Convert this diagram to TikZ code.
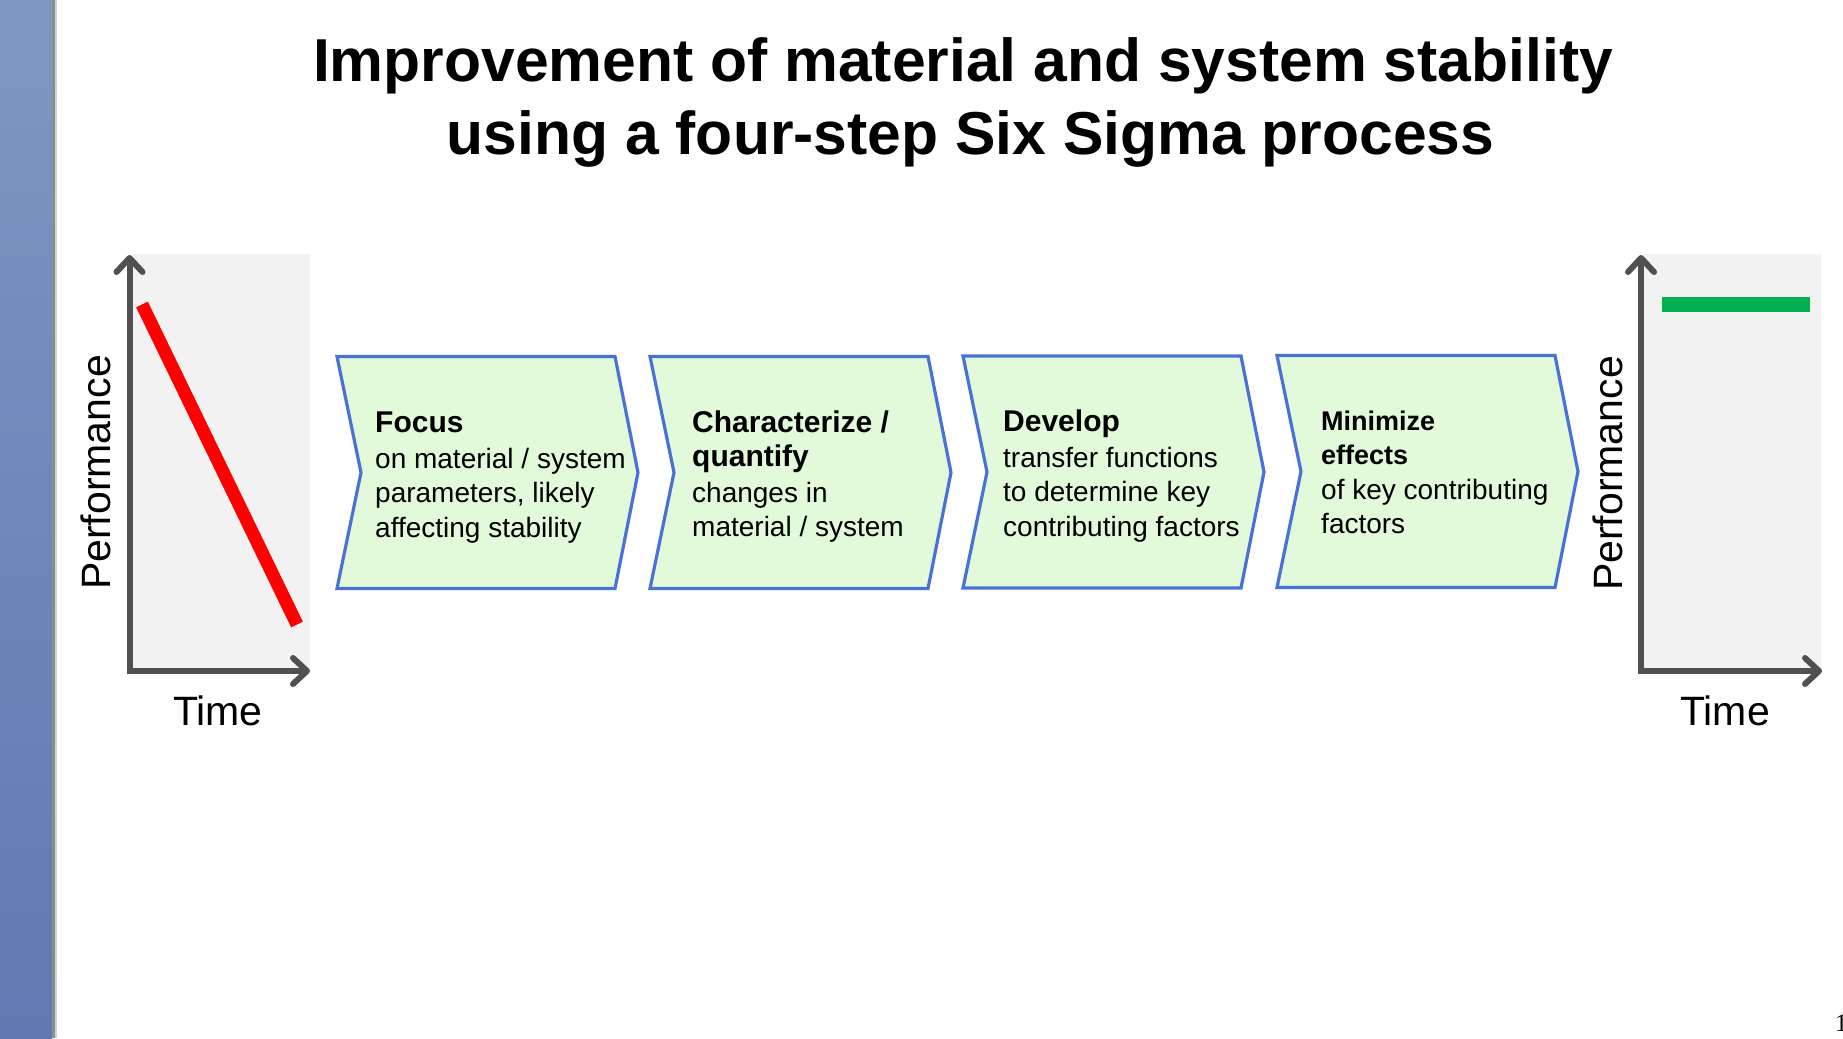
\documentclass[tikz,border=0pt]{standalone}
\usepackage{fontspec}
\setmainfont{Liberation Sans}
\newfontfamily\pagenumfont{Liberation Serif}
\usetikzlibrary{arrows.meta}

\definecolor{barTop}{RGB}{128,150,194}
\definecolor{barBot}{RGB}{98,120,178}
\definecolor{axisgray}{RGB}{80,80,80}
\definecolor{panelgray}{RGB}{242,242,242}
\definecolor{chevline}{RGB}{72,114,214}
\definecolor{chevfill}{RGB}{226,250,218}
\definecolor{okgreen}{RGB}{0,176,80}

\begin{document}
\begin{tikzpicture}[x=1pt,y=-1pt,
  barb/.tip={Straight Barb[length=14pt,width=26pt,line cap=round,line join=round]},
  axisline/.style={draw=axisgray, line width=6pt, barb-barb},
  panel/.style={fill=panelgray},
  chevshape/.style={draw=chevline, fill=chevfill, line width=3.2pt, line join=miter},
  chev/.pic={\path[chevshape] (0,0) -- (278,0) -- (301,116) -- (278,232) -- (0,232) -- (24,116) -- cycle;},
  steptext/.style={anchor=base west, inner sep=0pt, font=\fontsize{28}{34.5}\selectfont},
  axislabel/.style={anchor=base, inner sep=0pt, font=\fontsize{41}{41}\selectfont},
  titleline/.style={anchor=base, inner sep=0pt, font=\fontsize{60.6}{70}\selectfont\bfseries}
]
\useasboundingbox (0,0) rectangle (1843,1038);

% side band
\shade[top color=barTop, bottom color=barBot] (0,0) rectangle (52,1038);
\fill[gray!90] (52,0) rectangle (55.3,1038);
\fill[gray!35] (55.3,0) rectangle (56.8,1038);

% title
\node[titleline] (title1) at (963,82) {Improvement of material and system stability};
\node[titleline] (title2) at (970.5,154) {using a four-step Six Sigma process};

% left chart: falling performance
\fill[panel] (131,254) rectangle (310,671);
\draw[red, line width=13pt] (142,304.5) -- (297,624.5);
\draw[axisline] (129.5,255) -- (129.5,671) -- (310,671);
\node[axislabel, rotate=90] (perfL) at (110,472.5) {Performance};
\node[axislabel] (timeL) at (218,725) {Time};

% right chart: stable performance
\fill[panel] (1643,254) rectangle (1821,671);
\fill[okgreen] (1662,297) rectangle (1810,312);
\draw[axisline] (1641,255) -- (1641,671) -- (1822,671);
\node[axislabel, rotate=90] (perfR) at (1622,473.5) {Performance};
\node[axislabel] (timeR) at (1725,725) {Time};

% four process steps
\pic (c1) at (337,356.5) {chev};
\pic (c2) at (650,356.5) {chev};
\pic (c3) at (963,356) {chev};
\pic (c4) at (1277,355.5) {chev};

\node[steptext] (s1) at (375,432) {\parbox[t]{260pt}{\raggedright
  {\fontsize{30}{34.5}\selectfont\bfseries Focus}\\[1.5pt]
  on material / system\\ parameters, likely\\ affecting stability}};
\node[steptext] (s2) at (692,432) {\parbox[t]{260pt}{\raggedright
  {\fontsize{30}{36}\selectfont\bfseries Characterize /\\ quantify}\\[1pt]
  changes in\\ material / system}};
\node[steptext] (s3) at (1003,431) {\parbox[t]{260pt}{\raggedright
  {\fontsize{30}{34.5}\selectfont\bfseries Develop}\\[1.5pt]
  transfer functions\\ to determine key\\ contributing factors}};
\node[steptext] (s4) at (1321,430) {\parbox[t]{260pt}{\raggedright
  {\fontsize{27}{34}\selectfont\bfseries Minimize\\ effects}\\
  of key contributing\\ factors}};

% page number at the slide edge
\node[anchor=base west, inner sep=0pt, font=\pagenumfont\fontsize{25}{25}\selectfont] (pagenum) at (1835,1031) {1};
\end{tikzpicture}
\end{document}
